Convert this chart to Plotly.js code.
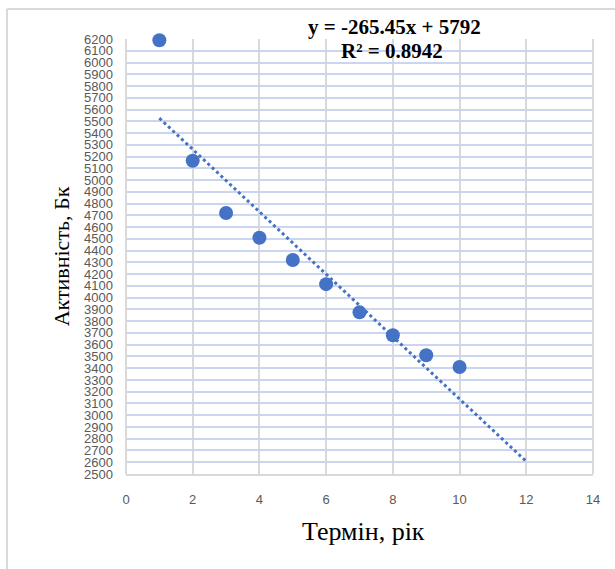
<!DOCTYPE html>
<html>
<head>
<meta charset="utf-8">
<script src="https://cdn.plot.ly/plotly-3.0.1.min.js"></script>
<style>
html,body{margin:0;padding:0;background:#fff;}
#chart{width:615px;height:569px;}
</style>
</head>
<body>
<div id="chart"></div>
<script>
// Data
const years = [1, 2, 3, 4, 5, 6, 7, 8, 9, 10];
const activity = [6190, 5165, 4720, 4510, 4320, 4115, 3875, 3680, 3510, 3410];
// Trendline (as stated on the chart)
const trendSlope = -265.45;
const trendIntercept = 5792;
const trendX = [1, 12];
const trendY = trendX.map(x => trendSlope * x + trendIntercept);
const eqText = "y = -265.45x + 5792";
const r2Text = "R² = 0.8942";
const xTitle = "Термін, рік";
const yTitle = "Активність, Бк";
const yTicks = [];
for (let v = 2500; v <= 6200; v += 100) yTicks.push(v);
const xTicks = [0, 2, 4, 6, 8, 10, 12, 14];

const blue = "#4472C4";

const traces = [
  {
    x: trendX, y: trendY, type: "scatter", mode: "lines",
    line: {color: blue, width: 3, dash: "dot"},
    hoverinfo: "skip", showlegend: false
  },
  {
    x: years, y: activity, type: "scatter", mode: "markers",
    marker: {color: blue, size: 14}, cliponaxis: false,
    showlegend: false
  }
];

const layout = {
  width: 615, height: 569,
  margin: {l: 126, r: 22, t: 39, b: 95},
  paper_bgcolor: "#fff", plot_bgcolor: "#fff",
  showlegend: false,
  xaxis: {
    range: [0, 14], tickvals: xTicks, ticktext: xTicks.map(String),
    showgrid: true, gridcolor: "#d9d9d9", gridwidth: 2,
    zeroline: false, showline: true, linecolor: "#d9d9d9", linewidth: 2,
    ticks: "", ticklabelstandoff: 12,
    tickfont: {family: "Liberation Sans, Arial, sans-serif", size: 13, color: "#595959"}
  },
  yaxis: {
    range: [2500, 6200], tickvals: yTicks, ticktext: yTicks.map(String),
    showgrid: true, gridcolor: "#c9d6ee", gridwidth: 2,
    zeroline: false, showline: false,
    ticks: "", ticklabelstandoff: 12,
    tickfont: {family: "Liberation Sans, Arial, sans-serif", size: 13, color: "#595959"},
    automargin: true,
    title: {text: yTitle, standoff: 8,
            font: {family: "Liberation Serif, Times New Roman, serif", size: 22, color: "#000"}}
  },
  shapes: [
    {type: "line", xref: "paper", yref: "paper", x0: 0, x1: 0, y0: 0, y1: 1,
     line: {color: "#d9d9d9", width: 2}},
    {type: "line", xref: "paper", yref: "paper", x0: 1, x1: 1, y0: 0, y1: 1,
     line: {color: "#d9d9d9", width: 2}},
    {type: "line", xref: "paper", yref: "paper", x0: -119/467, x1: -119/467, y0: -95/435, y1: 1 + 30/435,
     line: {color: "#d9d9d9", width: 2}},
    {type: "line", xref: "paper", yref: "paper", x0: -119/467, x1: 1 + 22/467, y0: 1 + 30/435, y1: 1 + 30/435,
     line: {color: "#d9d9d9", width: 2}}
  ],
  annotations: [
    {text: "<b>" + eqText + "</b>", xref: "paper", yref: "paper",
     x: (394 - 126) / 467, y: (474 - 27) / 435, showarrow: false,
     xanchor: "center", yanchor: "middle",
     font: {family: "Liberation Serif, Times New Roman, serif", size: 21, color: "#000"}},
    {text: "<b>" + r2Text + "</b>", xref: "paper", yref: "paper",
     x: (392 - 126) / 467, y: (474 - 51) / 435, showarrow: false,
     xanchor: "center", yanchor: "middle",
     font: {family: "Liberation Serif, Times New Roman, serif", size: 21, color: "#000"}},
    {text: xTitle, xref: "paper", yref: "paper",
     x: (363 - 126) / 467, y: (474 - 531) / 435, showarrow: false,
     xanchor: "center", yanchor: "middle",
     font: {family: "Liberation Serif, Times New Roman, serif", size: 26, color: "#000"}}
  ]
};

Plotly.newPlot("chart", traces, layout, {displayModeBar: false, staticPlot: true});
</script>
</body>
</html>
